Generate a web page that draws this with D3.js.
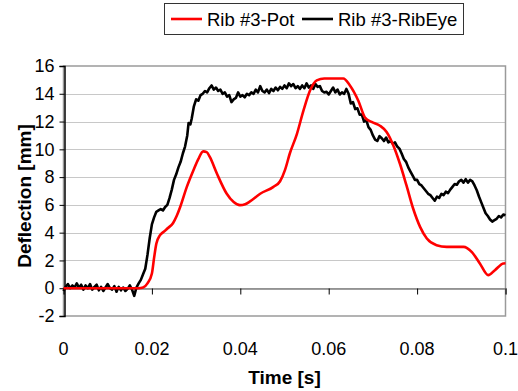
<!DOCTYPE html>
<html>
<head>
<meta charset="utf-8">
<script src="https://cdn.jsdelivr.net/npm/d3@7"></script>
<style>
  body { margin: 0; background: #fff; }
  text { font-family: "Liberation Sans", Arial, sans-serif; fill: #000; }
</style>
</head>
<body>
<div class="container"></div>
<script>
(function(){

    // series names, ticks
    var seriesNames = ["Rib #3-Pot", "Rib #3-RibEye"];
    var xTicks = [0, 0.02, 0.04, 0.06, 0.08, 0.1];
    var yTicks = [-2, 0, 2, 4, 6, 8, 10, 12, 14, 16];

    // [time s, deflection mm]
    var potData = [[0,0],[0.017,0],[0.018,0.05],[0.019,0.35],[0.02,1.06],[0.0205,2.2],[0.021,3.2],
      [0.0218,3.8],[0.0226,4.05],[0.0237,4.35],[0.0248,4.7],[0.0256,5.2],[0.0264,5.85],[0.0279,7.3],
      [0.0294,8.5],[0.0305,9.3],[0.0316,9.85],[0.0324,9.8],[0.0331,9.45],[0.0347,8.26],[0.0369,6.82],
      [0.0385,6.2],[0.0399,5.98],[0.0411,6.05],[0.0422,6.25],[0.0445,6.8],[0.0475,7.3],[0.049,7.7],
      [0.0501,8.5],[0.0512,9.7],[0.0528,11.1],[0.0543,12.8],[0.0558,14.25],[0.0573,14.97],[0.059,15.1],
      [0.0633,15.1],[0.0648,14.6],[0.0667,13.5],[0.0682,12.3],[0.0697,11.97],[0.0716,11.7],[0.0731,11.25],
      [0.0746,10.3],[0.0761,8.98],[0.0776,7.4],[0.0791,5.74],[0.0807,4.4],[0.0822,3.58],[0.0844,3.1],
      [0.0867,2.98],[0.0905,2.98],[0.0924,2.6],[0.0942,1.78],[0.0961,0.94],[0.0976,1.3],[0.0995,1.78],[0.1,1.8]];

    var ribEyeData = [[0,-0.2],[0.0005,0.1],[0.001,0.3],[0.0015,0.0],[0.002,0.2],[0.0025,0.05],[0.003,0.35],
      [0.0035,0.05],[0.004,0.25],[0.0045,-0.1],[0.005,0.2],[0.0055,0.0],[0.006,0.3],[0.0065,-0.1],[0.007,0.1],
      [0.0075,0.25],[0.008,-0.15],[0.0085,0.1],[0.009,-0.2],[0.0095,0.05],[0.01,0.3],[0.0105,0.0],[0.011,-0.1],
      [0.0115,0.15],[0.012,-0.25],[0.0125,0.1],[0.013,-0.15],[0.0135,0.05],[0.014,-0.2],[0.0145,-0.05],
      [0.015,0.2],[0.0155,-0.1],[0.016,-0.55],[0.0165,0.05],[0.017,0.35],[0.0175,0.6],[0.018,1.0],[0.0185,1.4],
      [0.019,2.4],[0.0195,3.6],[0.02,4.6],[0.0205,5.1],[0.021,5.5],[0.0215,5.6],[0.022,5.7],[0.0225,5.6],
      [0.023,5.85],[0.0235,6.0],[0.024,6.5],[0.0245,7.1],[0.025,7.8],[0.0255,8.2],[0.026,8.7],[0.0265,9.1],
      [0.027,9.7],[0.0275,10.2],[0.028,11.0],[0.0283,11.9],[0.0287,11.8],[0.029,12.2],[0.0295,13.1],[0.03,13.6],
      [0.0305,13.5],[0.031,13.9],[0.0315,14.0],[0.032,14.2],[0.0325,14.1],[0.033,14.4],[0.0335,14.6],[0.034,14.3],
      [0.0345,14.45],[0.035,14.2],[0.0355,14.3],[0.036,14.0],[0.0365,14.1],[0.037,13.8],[0.0375,13.9],[0.038,13.4],
      [0.0385,13.6],[0.039,13.7],[0.0395,14.1],[0.04,13.8],[0.0405,13.9],[0.041,13.75],[0.0415,14.0],[0.042,13.9],
      [0.0425,14.1],[0.043,14.0],[0.0435,14.3],[0.044,14.1],[0.0445,14.55],[0.045,14.2],[0.0455,14.1],[0.046,14.3],
      [0.0465,14.05],[0.047,14.35],[0.0475,14.2],[0.048,14.45],[0.0485,14.25],[0.049,14.5],[0.0495,14.35],
      [0.05,14.6],[0.0505,14.4],[0.051,14.75],[0.0515,14.55],[0.052,14.7],[0.0525,14.4],[0.053,14.55],
      [0.0535,14.35],[0.054,14.6],[0.0545,14.4],[0.055,14.75],[0.0555,14.45],[0.056,14.6],[0.0565,14.35],
      [0.057,14.7],[0.0575,14.5],[0.058,14.55],[0.0585,14.2],[0.059,14.1],[0.0595,14.15],[0.06,13.95],
      [0.0605,14.2],[0.061,14.45],[0.0615,14.1],[0.062,14.3],[0.0625,13.95],[0.063,14.1],[0.0635,14.0],
      [0.064,14.35],[0.0645,14.0],[0.065,13.3],[0.0655,13.4],[0.066,12.9],[0.0665,12.95],[0.067,12.5],
      [0.0675,12.5],[0.068,12.0],[0.0685,12.1],[0.069,11.6],[0.0695,11.4],[0.07,11.0],[0.0705,10.7],[0.071,10.6],
      [0.0715,10.95],[0.072,10.8],[0.0725,10.6],[0.073,10.85],[0.0735,10.5],[0.074,10.6],[0.0745,10.4],
      [0.075,10.5],[0.0755,10.2],[0.076,10.05],[0.0765,9.7],[0.077,9.3],[0.0775,9.1],[0.078,8.7],[0.0785,8.4],
      [0.079,8.1],[0.0795,7.8],[0.08,7.8],[0.0805,7.5],[0.081,7.4],[0.0815,7.2],[0.082,7.0],[0.0825,6.8],
      [0.083,6.7],[0.0835,6.5],[0.084,6.3],[0.0845,6.6],[0.085,6.5],[0.0855,6.8],[0.086,6.7],[0.0865,6.95],
      [0.087,6.85],[0.0875,7.1],[0.088,7.3],[0.0885,7.5],[0.089,7.45],[0.0895,7.7],[0.09,7.8],[0.0905,7.6],
      [0.091,7.85],[0.0915,7.6],[0.092,7.8],[0.0925,7.7],[0.093,7.4],[0.0935,7.05],[0.094,6.6],[0.0945,6.2],
      [0.095,5.8],[0.0955,5.4],[0.096,5.2],[0.0965,4.95],[0.097,4.8],[0.0975,4.9],[0.098,5.0],[0.0985,5.2],
      [0.099,5.1],[0.0995,5.3],[0.1,5.25]];

    var left = 63.5, right = 505.5, top = 66, bottom = 316;

    var svg = d3.select(".container").append("svg")
        .attr("width", 518)
        .attr("height", 391);

    var x = d3.scaleLinear().domain([0, 0.1]).range([left, right]);
    var y = d3.scaleLinear().domain([-2, 16]).range([bottom, top]);

    // gridlines
    svg.append("g").selectAll("line")
      .data(yTicks.filter(function(d) { return d > -2 && d < 16; }))
      .enter().append("line")
      .attr("x1", left).attr("x2", right)
      .attr("y1", function(d) { return Math.round(y(d)) + 0.5; })
      .attr("y2", function(d) { return Math.round(y(d)) + 0.5; })
      .style("stroke", "#c8c8c8");

    // plot area border
    svg.append("rect")
      .attr("x", left).attr("y", top)
      .attr("width", right - left).attr("height", bottom - top)
      .style("fill", "none").style("stroke", "#9a9a9a").style("stroke-width", 1.5);

    // x axis at zero
    var xAxis = d3.axisBottom(x).tickValues(xTicks).tickSize(6).tickFormat("");
    var gx = svg.append("g")
      .attr("transform", "translate(0," + (Math.round(y(0)) + 0.5) + ")")
      .call(xAxis);
    gx.select(".domain").style("stroke", "#808080").style("stroke-width", 1.5);
    gx.selectAll(".tick line").style("stroke", "#000");

    svg.append("g").selectAll("text")
      .data(xTicks)
      .enter().append("text")
      .attr("x", function(d) { return x(d); })
      .attr("y", 355)
      .attr("text-anchor", "middle")
      .style("font-size", "18px")
      .text(function(d) { return d; });

    // y axis
    var yAxis = d3.axisLeft(y).tickValues(yTicks).tickSize(5).tickPadding(5)
      .tickFormat(function(d) { return String(d); });
    var gy = svg.append("g")
      .attr("transform", "translate(" + (Math.round(left) + 0.5) + ",0)")
      .call(yAxis);
    gy.select(".domain").style("stroke", "#000").style("stroke-width", 1.5);
    gy.selectAll(".tick text")
      .style("font-size", "18px")
      .style("font-family", "Liberation Sans, Arial, sans-serif");

    // series
    var linePot = d3.line()
      .x(function(d) { return x(d[0]); })
      .y(function(d) { return y(d[1]); })
      .curve(d3.curveMonotoneX);
    var lineRib = d3.line()
      .x(function(d) { return x(d[0]); })
      .y(function(d) { return y(d[1]); });

    svg.append("path").datum(ribEyeData)
      .attr("d", lineRib)
      .style("fill", "none").style("stroke", "#000").style("stroke-width", 2.6)
      .style("stroke-linejoin", "round");
    svg.append("path").datum(potData)
      .attr("d", linePot)
      .style("fill", "none").style("stroke", "#ff0000").style("stroke-width", 2.6);

    // axis titles
    svg.append("text")
      .attr("x", (left + right) / 2).attr("y", 384)
      .attr("text-anchor", "middle")
      .style("font-size", "19px").style("font-weight", "bold")
      .text("Time [s]");
    svg.append("text")
      .attr("transform", "translate(31," + 196 + ") rotate(-90)")
      .attr("text-anchor", "middle")
      .style("font-size", "19px").style("font-weight", "bold")
      .text("Deflection [mm]");

    // legend
    var colors = ["#ff0000", "#000000"];
    var legend = svg.append("g");
    legend.append("rect")
      .attr("x", 164.5).attr("y", 3.5).attr("width", 299).attr("height", 31)
      .style("fill", "#fff").style("stroke", "#333");
    var itemX = [171, 302];
    seriesNames.forEach(function(name, i) {
      legend.append("line")
        .attr("x1", itemX[i]).attr("x2", itemX[i] + 31)
        .attr("y1", 19).attr("y2", 19)
        .style("stroke", colors[i]).style("stroke-width", 2.6);
      legend.append("text")
        .attr("x", itemX[i] + 36).attr("y", 26)
        .style("font-size", "18.5px")
        .text(name);
    });

})();
</script>
</body>
</html>
